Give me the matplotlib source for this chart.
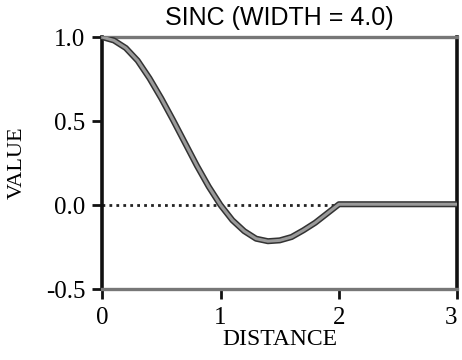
import matplotlib
matplotlib.use('Agg')
import matplotlib.pyplot as plt

# values
distance = [0.0, 0.1, 0.2, 0.3, 0.4, 0.5, 0.6, 0.7, 0.8, 0.9, 1.0,
            1.1, 1.2, 1.3, 1.4, 1.5, 1.6, 1.7, 1.8, 1.9, 2.0, 3.0]
value = [1.0, 0.98, 0.935, 0.86, 0.755, 0.635, 0.505, 0.37, 0.235, 0.11, 0.0,
         -0.09, -0.155, -0.2, -0.215, -0.21, -0.19, -0.15, -0.105, -0.05, 0.005, 0.005]
xticks = [0, 1, 2, 3]
yticks = [-0.5, 0.0, 0.5, 1.0]
ytick_labels = ['-0.5', '0.0', '0.5', '1.0']

serif = 'Liberation Serif'
sans = 'Liberation Sans'

fig = plt.figure(figsize=(4.62, 3.6), dpi=100)
ax = fig.add_axes([0.221, 0.197, 0.769, 0.700])

# dotted zero line under the curve
ax.plot([0, 2], [0, 0], color='#222222', lw=2, linestyle=(0, (1, 1.5)), zorder=2)

# thick grey curve with dark outline
ax.plot(distance, value, color='#333333', lw=4.4, solid_capstyle='butt', zorder=3)
ax.plot(distance, value, color='#9a9a9a', lw=2.2, solid_capstyle='butt', zorder=4)

ax.set_xlim(0, 3)
ax.set_ylim(-0.5, 1.0)
ax.set_xticks(xticks)
ax.set_xticklabels([str(t) for t in xticks], family=serif, fontsize=18)
ax.set_yticks(yticks)
ax.set_yticklabels(ytick_labels, family=serif, fontsize=18)
ax.tick_params(axis='both', direction='out', length=7, width=2, color='#111111', pad=5)
ax.tick_params(axis='x', pad=6)
# keep the last label inside the figure
ax.get_xticklabels()[-1].set_horizontalalignment('right')

for side in ['left', 'right']:
    ax.spines[side].set_linewidth(2.6)
    ax.spines[side].set_color('#111111')
for side in ['top', 'bottom']:
    ax.spines[side].set_linewidth(2.4)
    ax.spines[side].set_color('#777777')

ax.set_title('SINC (WIDTH = 4.0)', family=sans, fontsize=18, pad=9)
ax.set_xlabel('DISTANCE', family=serif, fontsize=17, labelpad=0)
ax.set_ylabel('VALUE', family=serif, fontsize=16, labelpad=14)

fig.savefig('out.png', dpi=100)
